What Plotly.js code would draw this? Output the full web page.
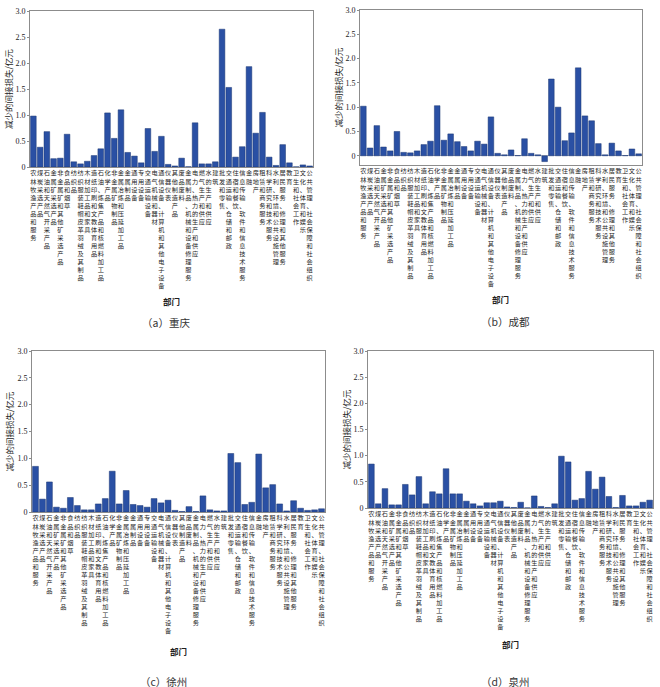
<!DOCTYPE html>
<html><head><meta charset="utf-8">
<script src="https://cdn.plot.ly/plotly-3.0.1.min.js"></script>
<style>html,body{margin:0;padding:0;background:#fff;}#chart{width:660px;height:687px;}</style>
</head><body><div id="chart"></div>
<script>
const sectors = ["农林牧渔产品和服务","煤炭采选产品","石油和天然气开采产品","金属矿采选产品","非金属矿和其他矿采选产品","食品和烟草","纺织品","纺织服装鞋帽皮革羽绒及其制品","木材加工品和家具","造纸印刷和文教体育用品","石油、炼焦产品和核燃料加工品","化学产品","非金属矿物制品","金属冶炼和压延加工品","金属制品","通用设备","专用设备","交通运输设备","电气机械和器材","通信设备、计算机和其他电子设备","仪器仪表","其他制造产品","废品废料","金属制品、机械和设备修理服务","电力、热力的生产和供应","燃气生产和供应","水的生产和供应","建筑","批发和零售","交通运输、仓储和邮政","住宿和餐饮","信息传输、软件和信息技术服务","金融","房地产","租赁和商务服务","科学研究和技术服务","水利、环境和公共设施管理","居民服务、修理和其他服务","教育","卫生和社会工作","文化、体育和娱乐","公共管理、社会保障和社会组织"];

const chongqing = [0.98,0.38,0.68,0.16,0.17,0.63,0.10,0.06,0.11,0.22,0.35,1.04,0.55,1.10,0.28,0.21,0.08,0.74,0.30,0.59,0.05,0.02,0.17,0.005,0.85,0.06,0.06,0.10,2.65,1.53,0.19,0.39,1.93,0.65,1.05,0.19,0.03,0.43,0.08,0.003,0.04,0.02];
const chengdu = [1.02,0.16,0.62,0.18,0.10,0.50,0.07,0.06,0.10,0.23,0.30,1.03,0.32,0.45,0.29,0.19,0.10,0.30,0.24,0.80,0.05,0.02,0.12,0.005,0.35,0.05,0.02,-0.12,1.58,1.00,0.31,0.47,1.81,0.82,0.72,0.25,0.02,0.26,0.10,0.005,0.14,0.04];
const xuzhou = [0.85,0.24,0.56,0.09,0.07,0.27,0.12,0.04,0.04,0.15,0.25,0.76,0.15,0.40,0.14,0.12,0.09,0.25,0.17,0.22,0.03,0.01,0.10,0.01,0.30,0.04,0.02,0.02,1.09,0.92,0.14,0.18,1.08,0.45,0.51,0.15,0.02,0.21,0.07,0.03,0.04,0.06];
const quanzhou = [0.84,0.08,0.37,0.06,0.06,0.45,0.25,0.60,0.08,0.31,0.27,0.75,0.27,0.27,0.13,0.08,0.04,0.10,0.10,0.13,0.02,0.01,0.11,0.003,0.23,0.03,0.01,0.08,0.99,0.88,0.15,0.18,0.70,0.36,0.59,0.22,0.01,0.24,0.04,0.04,0.11,0.15];

const yTickVals = [0,0.5,1.0,1.5,2.0,2.5,3.0];
const yTickText = ["0","0.5","1.0","1.5","2.0","2.5","3.0"];
const panelNames = ["（a）重庆","（b）成都","（c）徐州","（d）泉州"];
const yTitle = "减少的间接损失/亿元";
const xTitle = "部门";

const W = 660, H = 687;
const px = v => v / W, py = v => 1 - v / H;
const vertical = sectors.map(s => s.split("").join("<br>"));

const FONT = "Liberation Serif, Noto Sans CJK SC, serif";
const CJK = "Noto Sans CJK SC, sans-serif";
const barColor = "#2a50a4";

const boxes = [
  {l:30,r:313,t:11,b:167,range:[0,3.0]},
  {l:360,r:642,t:10,b:165,range:[-0.19,3.0]},
  {l:32,r:325,t:351,b:512,range:[0,3.0]},
  {l:368,r:653,t:351,b:508,range:[0,3.0]}
];
const series = [chongqing, chengdu, xuzhou, quanzhou];

const data = [];
const layout = {
  width: W, height: H, margin:{l:0,r:0,t:0,b:0},
  paper_bgcolor:"#fff", plot_bgcolor:"#fff",
  showlegend:false, font:{family:FONT, color:"#222"},
  bargap:0.16, annotations:[]
};
const titleX = [8, 338, 8, 345];
const deptPos = [[171,301],[501,299],[178,651],[510,644]];
const capPos = [[166,322],[505,321],[163,681],[505,681]];

series.forEach((vals, i) => {
  const n = i === 0 ? "" : String(i + 1);
  const b = boxes[i];
  data.push({type:"bar", x:sectors, y:vals, xaxis:"x"+n, yaxis:"y"+n,
    marker:{color:barColor, line:{color:"#1a3673", width:0.5}}, hoverinfo:"x+y"});
  layout["xaxis"+n] = {domain:[px(b.l), px(b.r)], anchor:"y"+n, type:"category",
    showline:true, mirror:true, linecolor:"#8c8c8c", linewidth:1, ticks:"",
    tickmode:"array", tickvals:sectors, ticktext:vertical, tickangle:0,
    tickfont:{family:CJK, size:6.2, color:"#1e1e1e"}, showgrid:false, zeroline:false,
    automargin:false, fixedrange:true};
  layout["yaxis"+n] = {domain:[py(b.b), py(b.t)], anchor:"x"+n, range:b.range,
    showline:true, mirror:true, linecolor:"#8c8c8c", linewidth:1,
    ticks:"outside", ticklen:2, tickcolor:"#8c8c8c", showticklabels:true,
    tickmode:"array", tickvals:yTickVals, ticktext:yTickText,
    tickfont:{family:FONT, size:8, color:"#222"}, showgrid:false,
    zeroline: i === 1, zerolinecolor:"#8c8c8c", zerolinewidth:0.5,
    automargin:false, fixedrange:true};
  layout.annotations.push({xref:"paper", yref:"paper", x:px(titleX[i]), y:py((b.t+b.b)/2),
    text:yTitle, textangle:-90, showarrow:false, xanchor:"center", yanchor:"middle",
    font:{family:CJK, size:8.5, color:"#1e1e1e"}});
  layout.annotations.push({xref:"paper", yref:"paper", x:px(deptPos[i][0]), y:py(deptPos[i][1]),
    text:"<b>"+xTitle+"</b>", showarrow:false, xanchor:"center", yanchor:"middle",
    font:{family:CJK, size:8.5, color:"#1e1e1e"}});
  layout.annotations.push({xref:"paper", yref:"paper", x:px(capPos[i][0]), y:py(capPos[i][1]),
    text:panelNames[i], showarrow:false, xanchor:"center", yanchor:"middle",
    font:{family:CJK, size:10.5, color:"#333"}});
});

Plotly.newPlot("chart", data, layout, {staticPlot:true, displayModeBar:false});
</script></body></html>
